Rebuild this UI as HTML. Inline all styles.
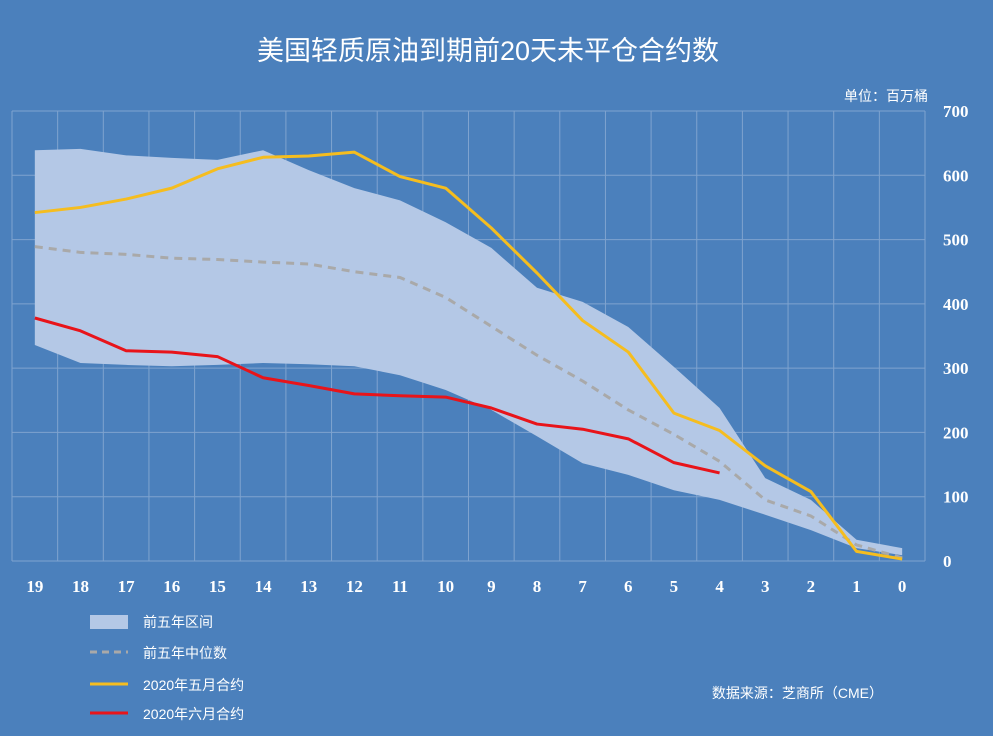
<!DOCTYPE html>
<html><head><meta charset="utf-8"><style>
body{margin:0;width:993px;height:731px;overflow:hidden;background:#4b80bc;font-family:"Liberation Sans","Noto Sans CJK SC",sans-serif}
</style></head><body>
<svg width="993" height="731" xmlns="http://www.w3.org/2000/svg">
<rect width="993" height="731" fill="#4b80bc"/>
<text x="488" y="60" text-anchor="middle" font-size="27" fill="#fff" font-family="Liberation Sans,Noto Sans CJK SC,sans-serif">美国轻质原油到期前20天未平仓合约数</text>
<text x="928" y="101" text-anchor="end" font-size="14" fill="#fff">单位：百万桶</text>
<g id="grid"></g><g id="series"></g><g id="axes"></g>
<g>
<rect x="90" y="615" width="38" height="14" fill="#b4c8e6"/>
<text x="143" y="627" font-size="14" fill="#fff">前五年区间</text>
<line x1="90" y1="652" x2="128" y2="652" stroke="#a9a9a9" stroke-width="3" stroke-dasharray="7,5"/>
<text x="143" y="658" font-size="14" fill="#fff">前五年中位数</text>
<line x1="90" y1="684" x2="128" y2="684" stroke="#f5bd1f" stroke-width="3"/>
<text x="143" y="690" font-size="14" fill="#fff">2020年五月合约</text>
<line x1="90" y1="713" x2="128" y2="713" stroke="#e8141a" stroke-width="3"/>
<text x="143" y="719" font-size="14" fill="#fff">2020年六月合约</text>
</g>
<text x="883" y="698" text-anchor="end" font-size="14" fill="#fff">数据来源：芝商所（CME）</text>
</svg>
<script>
const categories=[19,18,17,16,15,14,13,12,11,10,9,8,7,6,5,4,3,2,1,0];
const bandUpper=[639,641,631,627,624,639,608,580,561,527,487,425,403,364,302,238,129,95,33,20];
const bandLower=[336,308,305,303,305,308,306,303,289,266,235,194,152,134,110,95,72,48,20,9];
const median=[489,480,477,471,469,465,462,450,441,410,365,320,280,235,197,155,95,70,25,5];
const may2020=[542,550,563,580,610,628,630,636,598,580,518,448,374,325,230,203,148,108,15,3];
const june2020=[378,358,327,325,318,285,273,260,257,255,238,213,205,190,153,137];
const yTicks=[0,100,200,300,400,500,600,700];
const L=12,R=925,T=111,B=561,YMAX=700;
const bw=(R-L)/categories.length;
const x=i=>L+bw*(i+0.5);
const y=v=>B-(v/YMAX)*(B-T);
const NS='http://www.w3.org/2000/svg';
function mk(tag,attrs,parent){const e=document.createElementNS(NS,tag);for(const k in attrs)e.setAttribute(k,attrs[k]);parent.appendChild(e);return e;}
const grid=document.getElementById('grid'),ser=document.getElementById('series'),ax=document.getElementById('axes');
for(let i=0;i<=categories.length;i++){const l=mk('line',{x1:L+bw*i,x2:L+bw*i,y1:T,y2:B,stroke:'#7fa3cf','stroke-width':1},grid);

}
yTicks.forEach(t=>{const l=mk('line',{x1:L,x2:R,y1:y(t),y2:y(t),stroke:'#7fa3cf','stroke-width':1},grid);


const tx=mk('text',{x:943,y:y(t)+6,'font-size':17,'font-weight':'bold',fill:'#fff','font-family':'Liberation Serif,serif'},ax);tx.textContent=t;

});
categories.forEach((c,i)=>{const tx=mk('text',{x:x(i),y:592,'text-anchor':'middle','font-size':17,'font-weight':'bold',fill:'#fff','font-family':'Liberation Serif,serif'},ax);tx.textContent=c;

});
let pts=bandUpper.map((v,i)=>x(i)+','+y(v));
for(let i=bandLower.length-1;i>=0;i--)pts.push(x(i)+','+y(bandLower[i]));
const band=mk('polygon',{points:pts.join(' '),fill:'#b4c8e6'},ser);


function line(arr,color,dash,name){const p=mk('polyline',{points:arr.map((v,i)=>x(i)+','+y(v)).join(' '),fill:'none',stroke:color,'stroke-width':3,'stroke-linejoin':'round'},ser);if(dash)p.setAttribute('stroke-dasharray',dash);

}
line(median,'#a9a9a9','8,6','median-line');
line(may2020,'#f5bd1f',null,'may-2020-line');
line(june2020,'#e8141a',null,'june-2020-line');
</script>
</body></html>
